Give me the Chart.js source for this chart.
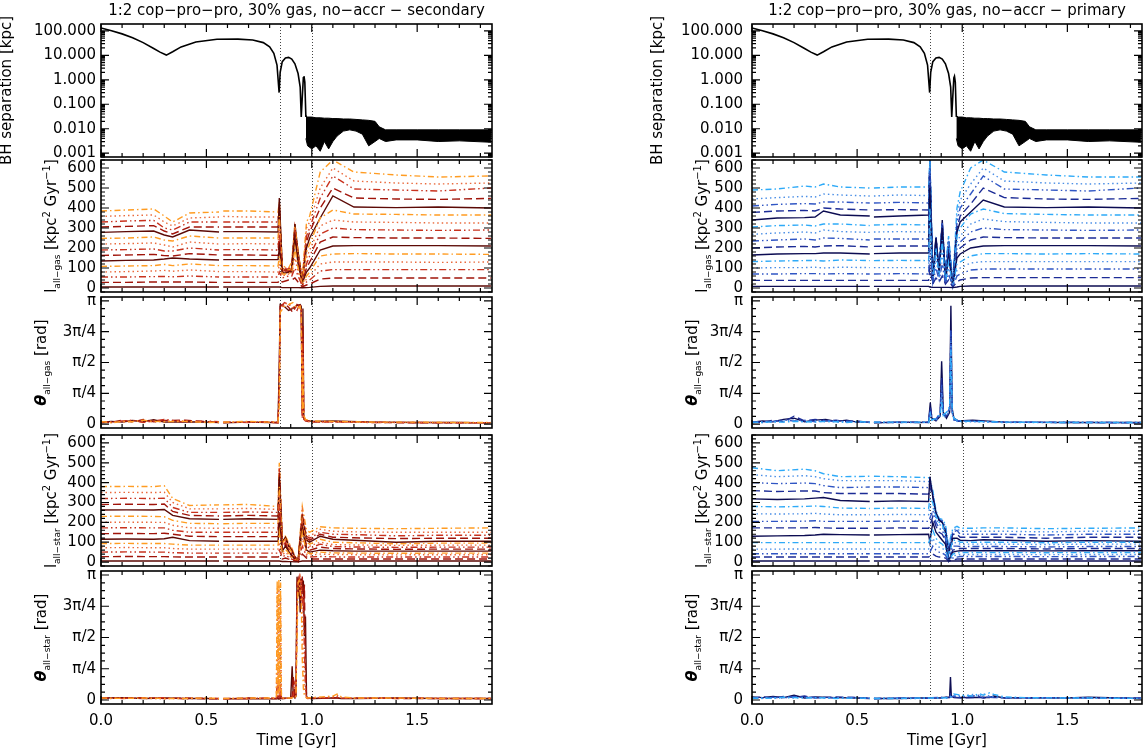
<!DOCTYPE html>
<html>
<head>
<meta charset="utf-8">
<title>BH separation and angular momentum</title>
<script src="https://cdn.jsdelivr.net/npm/chart.js@4.4.1/dist/chart.umd.min.js"></script>
<style>
  html, body { margin: 0; padding: 0; background: #fff; }
  body { width: 1145px; height: 754px; position: relative; overflow: hidden; }
  canvas { position: absolute; left: 0; top: 0; }
</style>
</head>
<body>
<script>
// ---- data ----
const colTitles = ['1:2 cop\u2212pro\u2212pro, 30% gas, no\u2212accr \u2212 secondary',
                   '1:2 cop\u2212pro\u2212pro, 30% gas, no\u2212accr \u2212 primary'];
const xTicks = [0, 0.5, 1.0, 1.5];
const sepTicks = [0.001, 0.01, 0.1, 1, 10, 100];
const lTicks = [0, 100, 200, 300, 400, 500, 600];
const thTicks = [0, Math.PI / 4, Math.PI / 2, 3 * Math.PI / 4, Math.PI];
const thLabels = ['0', '\u03c0/4', '\u03c0/2', '3\u03c0/4', '\u03c0'];
const mergerTimes = [0.848, 1.002];

// BH separation (same in both columns)
const tSep = [0, 0.05, 0.1, 0.15, 0.2, 0.25, 0.28, 0.31, 0.34, 0.38, 0.45, 0.55, 0.65, 0.72, 0.77, 0.8, 0.82, 0.835,
              0.845, 0.85, 0.86, 0.875, 0.89, 0.905, 0.92, 0.935, 0.945, 0.95, 0.955, 0.96, 0.963, 0.967, 0.972];
const sep = [130, 100, 75, 52, 33, 19, 13.5, 10.2, 14, 22, 35, 45, 46, 42, 33, 22, 12, 4,
             0.3, 2, 5.5, 7.8, 8.2, 7, 4.5, 1.8, 0.5, 0.03, 0.2, 1.2, 1.4, 0.8, 0.03];
const tBand = [0.972, 0.98, 1.0, 1.02, 1.04, 1.06, 1.08, 1.1, 1.12, 1.15, 1.18, 1.21, 1.24, 1.27, 1.3, 1.32, 1.35,
               1.4, 1.5, 1.6, 1.7, 1.85];
const sepHi = [0.035, 0.03, 0.03, 0.028, 0.028, 0.027, 0.027, 0.026, 0.026, 0.025, 0.025, 0.024, 0.023, 0.022, 0.02,
               0.012, 0.009, 0.009, 0.009, 0.009, 0.009, 0.009];
const sepLo = [0.004, 0.002, 0.0015, 0.002, 0.0012, 0.003, 0.0015, 0.003, 0.005, 0.008, 0.009, 0.008, 0.006, 0.002,
               0.003, 0.004, 0.003, 0.0035, 0.0035, 0.003, 0.0032, 0.0028];

// time grid for the angular momentum panels (null at 0.57 = gap in the output)
const tGrid = [0.00, 0.12, 0.25, 0.30, 0.34, 0.42, 0.56, 0.57, 0.58, 0.70, 0.84,
               0.846, 0.86, 0.875, 0.89, 0.905, 0.92, 0.935, 0.955, 0.975, 0.99, 1.04,
               1.10, 1.20, 1.40, 1.60, 1.85];

const gasSec = [
  [5,5,5,5,5,5,5,null,5,5,5, 5,2,2,2,2,2,2,1,2,3,8, 10,10,10,10,10],
  [28,28,30,30,30,30,28,null,28,28,28, 40,30,35,40,40,50,30,5,15,20,45, 50,50,50,50,50],
  [55,55,57,58,56,60,55,null,55,55,55, 80,50,55,60,60,100,60,10,30,40,85, 92,92,92,92,92],
  [80,82,85,88,84,90,82,null,82,82,80, 120,60,65,70,70,150,80,15,45,60,120, 130,130,130,128,130],
  [108,110,112,118,112,120,112,null,112,112,110, 160,70,70,75,75,200,100,20,60,80,160, 170,172,170,170,168],
  [135,138,140,145,150,145,140,null,142,142,142, 200,75,75,80,80,250,120,25,80,100,190, 210,212,212,212,210],
  [163,165,168,162,160,172,165,null,165,165,163, 240,80,80,80,85,270,140,30,100,130,230, 255,252,250,250,248],
  [190,192,195,185,185,200,190,null,192,192,190, 280,85,85,85,90,290,150,35,120,160,270, 300,292,290,288,290],
  [220,222,225,215,205,230,220,null,220,222,220, 320,90,90,85,95,300,160,40,150,190,310, 340,330,328,325,325],
  [248,250,255,240,235,260,250,null,250,250,250, 360,95,90,90,100,310,170,40,180,220,350, 390,370,368,365,365],
  [278,282,285,265,255,290,280,null,282,282,280, 450,100,85,90,100,320,180,30,200,250,350, 460,405,402,405,400],
  [305,308,312,285,270,305,305,null,305,305,305, 420,90,90,90,110,300,170,35,230,280,400, 500,450,445,443,448],
  [330,335,338,300,290,330,330,null,330,330,330, 400,85,95,95,110,280,160,40,260,300,450, 560,495,490,485,500],
  [358,362,365,330,310,350,355,null,358,355,355, 410,100,100,95,120,300,170,45,300,330,500, 600,535,525,520,525],
  [385,390,395,360,330,375,380,null,385,385,380, 430,110,105,100,130,320,180,50,330,360,580, 640,580,565,555,560]
];

const gasPri = [
  [8,8,8,8,8,8,8,null,8,8,8, 5,3,3,3,3,3,3,2,5,8,10, 10,10,10,10,10],
  [38,38,38,38,38,38,38,null,38,38,38, 100,20,50,30,60,20,40,5,30,40,50, 52,52,52,52,52],
  [70,70,72,72,70,72,70,null,70,72,70, 200,25,100,40,120,25,70,8,60,70,90, 95,95,95,95,95],
  [100,102,102,104,100,104,102,null,102,102,102, 300,30,150,50,180,30,100,10,90,100,125, 132,132,132,132,132],
  [132,135,137,138,135,140,137,null,137,138,137, 400,30,200,60,240,30,130,12,120,130,160, 172,172,170,172,170],
  [165,170,172,172,175,175,170,null,172,175,175, 500,30,250,70,300,30,160,12,150,170,200, 210,212,212,212,210],
  [200,205,208,205,210,212,205,null,208,210,210, 560,35,260,80,320,35,180,15,180,200,240, 255,252,250,250,250],
  [235,240,245,240,250,248,240,null,245,245,245, 600,40,250,90,330,40,200,15,200,230,280, 300,292,290,288,290],
  [268,275,280,275,290,282,278,null,280,282,280, 620,45,240,100,320,45,210,20,230,260,320, 345,332,328,325,325],
  [305,312,315,310,320,320,312,null,315,318,315, 640,50,230,100,310,50,220,20,260,300,370, 395,372,368,365,365],
  [340,350,352,355,385,365,360,null,355,360,365, 620,20,250,70,340,30,200,15,280,330,380, 440,405,402,405,400],
  [378,385,388,385,400,395,390,null,390,392,390, 640,40,220,110,320,60,230,20,300,360,420, 500,452,445,443,448],
  [410,418,422,420,430,430,425,null,425,428,425, 640,50,200,120,300,70,240,25,330,400,470, 560,495,490,485,500],
  [445,452,458,455,470,465,460,null,460,465,462, 640,60,210,120,290,80,250,25,360,440,520, 600,535,525,520,525],
  [490,495,510,505,520,505,500,null,500,505,505, 640,70,220,130,300,90,260,30,400,480,600, 640,580,565,555,555]
];

const starSec = [
  [5,5,5,5,5,5,5,null,5,5,5, 5,3,3,2,2,1,1,5,5,5,5, 5,5,5,5,5],
  [27,28,27,27,26,25,25,null,25,25,25, 30,15,20,15,10,5,3,40,20,15,15, 15,15,15,15,15],
  [50,51,50,50,47,45,45,null,45,45,45, 60,25,35,25,15,8,3,80,30,25,28, 26,25,25,25,25],
  [72,73,72,72,68,65,65,null,65,65,65, 100,35,50,35,20,10,3,120,40,35,40, 38,37,36,37,37],
  [93,94,93,93,90,85,85,null,85,85,85, 150,45,65,45,25,12,4,150,50,42,50, 46,45,44,45,45],
  [115,116,115,117,125,108,105,null,105,105,105, 200,55,80,55,30,14,4,170,60,50,60, 57,55,55,55,55],
  [143,144,143,145,140,130,128,null,128,128,128, 250,65,90,60,35,16,5,180,70,60,75, 68,66,64,65,65],
  [172,173,172,172,160,150,150,null,150,150,150, 300,75,100,65,40,18,5,190,80,70,90, 78,76,74,75,75],
  [200,201,200,200,185,172,170,null,170,172,172, 340,85,110,70,45,20,5,200,90,80,100, 88,86,84,85,85],
  [230,231,230,228,210,195,193,null,193,195,195, 380,95,115,75,50,22,6,210,100,90,115, 100,97,92,95,95],
  [262,263,262,265,235,218,215,null,215,218,215, 430,100,125,80,55,24,6,220,110,100,130, 115,110,100,105,105],
  [290,291,290,292,255,235,232,null,232,235,232, 450,105,120,85,60,25,6,230,120,110,140, 125,122,118,120,120],
  [320,321,320,322,275,250,250,null,250,252,250, 470,110,115,90,60,25,7,240,130,120,150, 140,138,132,135,135],
  [350,351,350,352,300,268,268,null,268,270,265, 480,120,120,95,65,28,8,260,140,130,165, 155,152,150,150,150],
  [380,381,380,385,320,285,288,null,288,290,280, 500,125,130,100,70,30,10,280,160,150,178, 172,170,168,170,172]
];

const starPri = [
  [5,5,5,5,5,5,5,null,5,5,5, 5,5,5,5,5,5,5,5,5,5,5, 5,5,5,5,5],
  [25,25,25,25,25,25,25,null,25,25,25, 30,40,30,25,25,20,5,10,15,15,15, 15,15,15,15,15],
  [42,42,42,42,42,42,42,null,42,42,42, 50,80,60,50,45,35,5,20,25,28,28, 28,28,27,28,28],
  [65,65,66,66,66,66,66,null,66,66,66, 80,120,90,75,70,55,5,30,35,38,38, 38,38,37,38,38],
  [98,98,98,98,98,98,98,null,98,98,98, 110,160,120,100,90,70,5,40,45,48,48, 48,48,47,48,48],
  [130,132,134,136,140,138,136,null,136,138,140, 100,200,150,130,110,90,5,50,55,57,57, 57,57,56,57,57],
  [172,172,172,174,172,170,170,null,170,172,170, 180,230,180,150,140,110,10,60,65,68,68, 68,68,66,68,68],
  [205,205,206,208,205,205,205,null,205,206,205, 220,260,200,170,160,120,15,80,80,78,78, 78,78,76,78,78],
  [243,242,243,245,242,238,238,null,238,240,238, 280,280,220,190,180,130,20,100,95,90,90, 90,90,88,90,90],
  [280,278,280,282,280,272,270,null,270,272,270, 320,300,230,200,190,140,30,110,110,100,100, 100,100,97,100,100],
  [318,315,318,322,325,310,305,null,305,308,305, 430,330,250,210,200,150,40,120,120,110,108, 112,110,105,108,105],
  [360,355,358,358,350,345,345,null,345,345,342, 380,330,240,210,200,160,50,140,140,125,125, 125,125,120,125,125],
  [400,395,398,395,385,375,378,null,378,378,375, 400,340,240,215,205,170,60,150,160,140,140, 140,140,136,140,140],
  [440,430,435,430,420,410,410,null,410,410,405, 410,350,250,215,210,180,70,160,170,155,155, 155,155,152,155,155],
  [475,460,468,460,445,430,432,null,432,430,425, 420,360,260,220,215,190,80,170,180,170,170, 172,172,168,170,172]
];

// misalignment angles, one curve per line style
const tThGasSec = [0, 0.05, 0.1, 0.15, 0.2, 0.25, 0.3, 0.4, 0.5, 0.56, 0.57, 0.58, 0.7, 0.8, 0.84, 0.846, 0.85, 0.87,
                   0.89, 0.91, 0.93, 0.945, 0.95, 0.955, 0.958, 0.962, 0.97, 1.0, 1.1, 1.3, 1.5, 1.7, 1.85];
const thGasSec = [
  [0.05,0.07,0.05,0.09,0.06,0.11,0.05,0.06,0.05,0.04,null,0.03,0.05,0.04,0.04,1.6,3.05,3.0,2.9,2.95,3.02,3.05,3.0,0.3,2.95,0.2,0.1,0.07,0.08,0.05,0.04,0.04,0.03],
  [0.03,0.05,0.1,0.05,0.12,0.06,0.09,0.1,0.06,0.05,null,0.04,0.06,0.05,0.03,1.2,3.0,3.08,2.98,2.85,3.05,3.0,2.95,0.2,2.5,0.15,0.08,0.05,0.06,0.04,0.03,0.03,0.03],
  [0.06,0.04,0.08,0.1,0.04,0.08,0.12,0.05,0.08,0.06,null,0.05,0.04,0.06,0.05,0.9,2.95,3.1,3.05,3.0,2.9,3.08,2.9,0.15,2.2,0.12,0.09,0.06,0.05,0.05,0.04,0.03,0.03],
  [0.04,0.06,0.05,0.07,0.08,0.05,0.07,0.08,0.05,0.04,null,0.04,0.05,0.04,0.04,0.7,2.9,3.05,3.1,2.95,3.0,2.95,2.85,0.25,1.8,0.18,0.07,0.05,0.05,0.04,0.04,0.04,0.03],
  [0.07,0.03,0.07,0.06,0.1,0.07,0.06,0.07,0.04,0.05,null,0.05,0.07,0.05,0.06,0.5,2.85,3.0,3.05,3.1,2.95,3.0,2.8,0.35,1.5,0.22,0.12,0.08,0.07,0.05,0.05,0.04,0.04]
];

const tThGasPri = [0, 0.05, 0.1, 0.15, 0.2, 0.25, 0.3, 0.35, 0.4, 0.45, 0.5, 0.56, 0.57, 0.58, 0.7, 0.8, 0.84, 0.848,
                   0.855, 0.875, 0.895, 0.902, 0.91, 0.925, 0.94, 0.946, 0.952, 0.96, 0.98, 1.05, 1.2, 1.5, 1.85];
const thGasPri = [
  [0.05,0.08,0.06,0.12,0.15,0.06,0.1,0.12,0.07,0.1,0.05,0.05,null,0.03,0.05,0.04,0.05,0.55,0.15,0.08,0.2,1.6,0.3,0.15,0.3,3.02,0.4,0.15,0.08,0.1,0.05,0.04,0.04],
  [0.04,0.05,0.1,0.06,0.2,0.08,0.12,0.08,0.1,0.06,0.08,0.04,null,0.04,0.04,0.05,0.04,0.45,0.2,0.1,0.25,1.2,0.25,0.2,0.35,2.4,0.3,0.12,0.07,0.08,0.05,0.04,0.03],
  [0.06,0.04,0.07,0.1,0.08,0.1,0.06,0.1,0.05,0.08,0.06,0.05,null,0.05,0.05,0.04,0.06,0.35,0.15,0.12,0.3,1.0,0.2,0.25,0.4,2.38,0.35,0.1,0.09,0.07,0.05,0.05,0.04],
  [0.03,0.06,0.05,0.08,0.1,0.05,0.08,0.06,0.08,0.05,0.05,0.04,null,0.04,0.04,0.04,0.05,0.3,0.12,0.1,0.2,0.8,0.18,0.2,0.35,2.2,0.3,0.12,0.06,0.06,0.04,0.04,0.03],
  [0.05,0.04,0.06,0.05,0.07,0.06,0.05,0.07,0.06,0.04,0.06,0.05,null,0.05,0.05,0.05,0.04,0.25,0.1,0.15,0.25,0.6,0.22,0.3,0.45,1.9,0.35,0.15,0.08,0.07,0.05,0.04,0.04]
];

const tThStarSec = [0, 0.1, 0.2, 0.3, 0.4, 0.5, 0.56, 0.57, 0.58, 0.7, 0.8, 0.832, 0.836, 0.84, 0.844, 0.848, 0.852,
                    0.856, 0.86, 0.9, 0.907, 0.912, 0.92, 0.925, 0.93, 0.935, 0.94, 0.945, 0.95, 0.955, 0.96, 0.965,
                    0.97, 0.975, 0.98, 1.0, 1.1, 1.12, 1.14, 1.2, 1.4, 1.6, 1.85];
const thStarSec = [
  [0.05,0.06,0.04,0.05,0.04,0.04,0.03,null,0.03,0.04,0.03,0.03,0.03,0.04,0.03,0.04,0.03,0.04,0.04,0.05,0.85,0.1,0.05,0.1,3.1,2.6,3.1,2.2,3.05,2.8,3.0,1.6,2.1,0.1,0.05,0.04,0.05,0.05,0.04,0.04,0.05,0.04,0.04],
  [0.04,0.05,0.06,0.04,0.05,0.03,0.03,null,0.03,0.05,0.04,0.04,0.05,0.3,0.05,0.04,0.2,0.05,0.04,0.05,0.1,0.6,0.05,0.2,2.9,3.1,2.7,3.05,2.5,3.1,2.2,2.9,0.8,0.08,0.05,0.04,0.05,0.06,0.04,0.05,0.04,0.04,0.04],
  [0.06,0.04,0.05,0.06,0.03,0.05,0.04,null,0.04,0.04,0.05,0.05,0.5,0.05,0.6,0.05,0.4,0.05,0.05,0.04,0.08,0.1,0.5,0.1,2.5,3.0,3.1,2.8,3.0,2.4,2.6,1.2,0.3,0.06,0.04,0.05,0.06,0.08,0.05,0.04,0.05,0.04,0.04],
  [0.03,0.05,0.04,0.03,0.05,0.04,0.03,null,0.03,0.03,0.04,0.05,2.8,0.1,2.9,0.1,2.6,0.1,0.05,0.04,0.05,0.05,0.06,0.1,2.0,2.9,3.0,3.1,2.9,2.0,0.8,0.3,0.1,0.05,0.05,0.05,0.08,0.12,0.06,0.05,0.04,0.05,0.04],
  [0.05,0.04,0.05,0.04,0.04,0.05,0.04,null,0.04,0.05,0.05,0.06,3.0,0.15,3.05,0.2,2.95,0.1,0.05,0.05,0.06,0.05,0.05,0.1,1.5,2.95,3.0,2.7,2.5,1.0,0.3,0.1,0.08,0.06,0.05,0.06,0.1,0.15,0.08,0.05,0.05,0.04,0.04]
];

const tThStarPri = [0, 0.05, 0.1, 0.15, 0.2, 0.25, 0.3, 0.4, 0.5, 0.56, 0.57, 0.58, 0.7, 0.8, 0.9, 0.94, 0.944, 0.948,
                    0.96, 1.0, 1.05, 1.08, 1.1, 1.13, 1.15, 1.2, 1.3, 1.5, 1.6, 1.85];
const thStarPri = [
  [0.08,0.06,0.09,0.06,0.12,0.05,0.08,0.06,0.05,0.04,null,0.04,0.04,0.05,0.06,0.08,0.58,0.1,0.06,0.06,0.07,0.06,0.07,0.06,0.1,0.05,0.06,0.05,0.07,0.04],
  [0.05,0.08,0.05,0.09,0.07,0.1,0.05,0.08,0.06,0.05,null,0.03,0.05,0.04,0.05,0.06,0.15,0.12,0.07,0.05,0.06,0.08,0.05,0.07,0.06,0.06,0.05,0.06,0.05,0.05],
  [0.06,0.05,0.07,0.05,0.09,0.06,0.07,0.05,0.07,0.04,null,0.04,0.05,0.05,0.07,0.07,0.1,0.08,0.1,0.08,0.1,0.12,0.06,0.08,0.07,0.05,0.06,0.05,0.05,0.04],
  [0.04,0.06,0.04,0.06,0.05,0.07,0.05,0.06,0.04,0.05,null,0.05,0.04,0.04,0.05,0.05,0.08,0.1,0.12,0.1,0.14,0.08,0.16,0.1,0.08,0.06,0.05,0.06,0.05,0.04],
  [0.05,0.04,0.05,0.07,0.06,0.05,0.06,0.04,0.05,0.04,null,0.04,0.04,0.05,0.05,0.06,0.07,0.08,0.15,0.12,0.1,0.16,0.12,0.18,0.14,0.08,0.06,0.05,0.05,0.04]
];

// ---- styling / layout ----
const FONT = "'DejaVu Sans', 'Liberation Sans', sans-serif";
const redShades = ['#5c0a06', '#a0140a', '#c8321e', '#ea6a3c', '#ff9c22'];
const blueShades = ['#0c0c52', '#1c2c96', '#3056c4', '#4a8ee6', '#2eaaf8'];
const dashes = [[], [8, 4], [7, 3, 1.5, 3, 1.5, 3], [1.5, 3], [6, 3, 1.5, 3]];
const colLeft = [101, 752], colRight = [492, 1142];
const rowTop = [24, 160, 297, 435, 571], rowBottom = [157, 292, 428, 566, 704];

function pts(t, v) { return t.map((x, i) => ({ x: x, y: v[i] })); }

function lineSets(t, series, pal) {
  return series.map((v, i) => ({
    data: pts(t, v),
    borderColor: pal[i % 5],
    borderDash: dashes[i % 5],
    borderWidth: 1.4,
    pointRadius: 0,
    tension: 0
  }));
}

function angleSets(t, series, pal) {
  return lineSets(t, series, pal).reverse();   // darkest drawn last
}

function sepSets() {
  return [
    { data: pts(tSep, sep), borderColor: '#000', borderWidth: 1.6, pointRadius: 0 },
    { data: pts(tBand, sepHi), borderColor: '#000', borderWidth: 1, pointRadius: 0 },
    { data: pts(tBand, sepLo), borderColor: '#000', borderWidth: 1, pointRadius: 0, fill: '-1', backgroundColor: '#000' }
  ];
}

const big = '15px ' + FONT, small = '9px ' + FONT, sup = '10px ' + FONT, greek = 'italic bold 16px ' + FONT;
const sepTitle = [{ t: 'BH separation [kpc]', f: big }];
const lTitle = sub => [{ t: 'l', f: big }, { t: sub, f: small, dy: 4 }, { t: ' [kpc', f: big }, { t: '2', f: sup, dy: -6 },
                       { t: ' Gyr', f: big }, { t: '\u22121', f: sup, dy: -6 }, { t: ']', f: big }];
const thTitle = sub => [{ t: '\u03b8', f: greek }, { t: sub, f: small, dy: 4 }, { t: ' [rad]', f: big }];

function drawRich(ctx, parts, cx, cy) {
  ctx.save();
  ctx.translate(cx, cy);
  ctx.rotate(-Math.PI / 2);
  ctx.fillStyle = '#000';
  ctx.textAlign = 'left';
  ctx.textBaseline = 'alphabetic';
  let w = 0;
  parts.forEach(p => { ctx.font = p.f; w += ctx.measureText(p.t).width; });
  let x = -w / 2;
  parts.forEach(p => {
    ctx.font = p.f;
    ctx.fillText(p.t, x, p.dy || 0);
    x += ctx.measureText(p.t).width;
  });
  ctx.restore();
}

// IDL-style box, inward ticks, dotted merger lines and titles
const idlFrame = {
  id: 'idlFrame',
  beforeDatasetsDraw(chart) {
    const { ctx, chartArea: a } = chart;
    const x = chart.scales.x;
    ctx.save();
    ctx.strokeStyle = '#444';
    ctx.lineWidth = 1;
    ctx.setLineDash([1, 2]);
    mergerTimes.forEach(t => {
      const px = Math.round(x.getPixelForValue(t)) + 0.5;
      ctx.beginPath();
      ctx.moveTo(px, a.top);
      ctx.lineTo(px, a.bottom);
      ctx.stroke();
    });
    ctx.restore();
  },
  afterDraw(chart, args, o) {
    const { ctx, chartArea: a } = chart;
    const x = chart.scales.x, y = chart.scales.y;
    ctx.save();
    ctx.strokeStyle = '#000';
    ctx.lineWidth = 1.2;
    ctx.beginPath();
    for (let k = 0; k <= 18; k++) {
      const p = x.getPixelForValue(k / 10), len = k % 5 === 0 ? 8 : 4;
      ctx.moveTo(p, a.bottom); ctx.lineTo(p, a.bottom - len);
      ctx.moveTo(p, a.top); ctx.lineTo(p, a.top + len);
    }
    const yt = (v, len) => {
      const p = y.getPixelForValue(v);
      ctx.moveTo(a.left, p); ctx.lineTo(a.left + len, p);
      ctx.moveTo(a.right, p); ctx.lineTo(a.right - len, p);
    };
    o.yMajor.forEach(v => yt(v, 8));
    o.yMinor.forEach(v => yt(v, 4));
    ctx.stroke();
    ctx.lineWidth = 1.6;
    ctx.strokeRect(a.left, a.top, a.right - a.left, a.bottom - a.top);

    ctx.fillStyle = '#000';
    ctx.font = big;
    ctx.textAlign = 'center';
    ctx.textBaseline = 'alphabetic';
    if (o.colTitle) ctx.fillText(o.colTitle, (a.left + a.right) / 2, 15);
    if (o.xTitle) ctx.fillText('Time [Gyr]', (a.left + a.right) / 2, 745);
    drawRich(ctx, o.yTitle, o.yTitleX, (a.top + a.bottom) / 2);
    ctx.restore();
  }
};

function lMinor() { const m = []; for (let v = -20; v <= 640; v += 20) if (v % 100 !== 0) m.push(v); return m; }
function thMinor() { const m = []; for (let k = 0; k <= 16; k++) if (k % 4 !== 0) m.push(k * Math.PI / 16); return m; }
function logMinor() {
  const m = [];
  for (let e = -4; e <= 2; e++) for (let d = 2; d <= 9; d++) { const v = d * Math.pow(10, e); if (v >= 0.0007 && v <= 190) m.push(v); }
  return m;
}

function yScale(kind, col) {
  const tickFont = { family: FONT, size: 15 };
  const base = {
    position: 'left',
    grid: { display: false, drawTicks: false },
    border: { display: false },
    afterFit: s => { s.width = 90; },
    ticks: { color: '#000', font: tickFont, padding: col === 0 ? 5 : 9, autoSkip: false }
  };
  if (kind === 'sep') {
    return Object.assign(base, {
      type: 'logarithmic', min: 0.0007, max: 190,
      afterBuildTicks: s => { s.ticks = sepTicks.map(v => ({ value: v })); },
      ticks: Object.assign(base.ticks, { callback: v => Number(v).toFixed(3) })
    });
  }
  if (kind === 'L') {
    return Object.assign(base, {
      type: 'linear', min: -20, max: 640,
      afterBuildTicks: s => { s.ticks = lTicks.map(v => ({ value: v })); },
      ticks: Object.assign(base.ticks, { callback: v => String(v) })
    });
  }
  return Object.assign(base, {
    type: 'linear', min: -0.1, max: Math.PI + 0.1,
    afterBuildTicks: s => { s.ticks = thTicks.map(v => ({ value: v })); },
    ticks: Object.assign(base.ticks, { callback: (v, i) => thLabels[i] })
  });
}

function makePanel(col, row, kind, datasets, yTitle) {
  const c = document.createElement('canvas');
  c.width = 1145; c.height = 754;
  document.body.appendChild(c);
  const showX = row === 4;
  const xH = showX ? 40 : 0;
  const titleX = { sep: 11, L: 56, th: 46 }[kind] + (col === 1 ? 651 : 0);
  const yMajor = kind === 'sep' ? sepTicks : kind === 'L' ? lTicks : thTicks;
  const yMinor = kind === 'sep' ? logMinor() : kind === 'L' ? lMinor() : thMinor();
  new Chart(c, {
    type: 'line',
    data: { datasets: datasets },
    options: {
      responsive: false,
      animation: false,
      events: [],
      layout: { padding: { left: colLeft[col] - 90, right: 1145 - colRight[col], top: rowTop[row], bottom: 754 - rowBottom[row] - xH } },
      plugins: {
        legend: { display: false },
        tooltip: { enabled: false },
        idlFrame: { yMajor: yMajor, yMinor: yMinor, yTitle: yTitle, yTitleX: titleX,
                    colTitle: row === 0 ? colTitles[col] : null, xTitle: showX }
      },
      scales: {
        x: {
          type: 'linear', min: 0, max: 1.855, display: showX,
          grid: { display: false, drawTicks: false },
          border: { display: false },
          afterBuildTicks: s => { s.ticks = xTicks.map(v => ({ value: v })); },
          afterFit: s => { s.height = xH; },
          ticks: { color: '#000', font: { family: FONT, size: 15 }, padding: 8, maxRotation: 0, autoSkip: false,
                   callback: v => Number(v).toFixed(1) }
        },
        y: yScale(kind, col)
      }
    },
    plugins: [idlFrame]
  });
}

[0, 1].forEach(col => {
  const pal = col === 0 ? redShades : blueShades;
  makePanel(col, 0, 'sep', sepSets(), sepTitle);
  makePanel(col, 1, 'L', lineSets(tGrid, col === 0 ? gasSec : gasPri, pal), lTitle('all\u2212gas'));
  makePanel(col, 2, 'th', angleSets(col === 0 ? tThGasSec : tThGasPri, col === 0 ? thGasSec : thGasPri, pal), thTitle('all\u2212gas'));
  makePanel(col, 3, 'L', lineSets(tGrid, col === 0 ? starSec : starPri, pal), lTitle('all\u2212star'));
  makePanel(col, 4, 'th', angleSets(col === 0 ? tThStarSec : tThStarPri, col === 0 ? thStarSec : thStarPri, pal), thTitle('all\u2212star'));
});
</script>
</body>
</html>
